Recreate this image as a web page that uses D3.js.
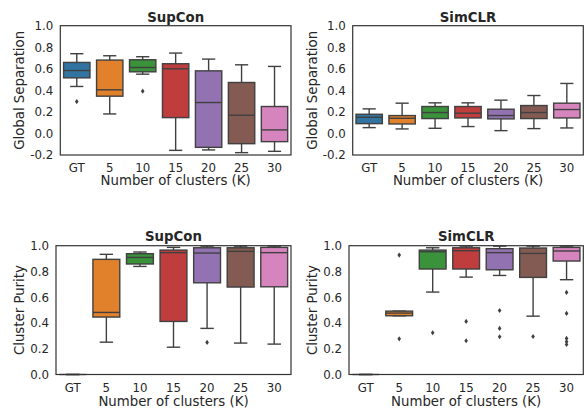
<!DOCTYPE html>
<html><head><meta charset="utf-8">
<script src="https://cdn.jsdelivr.net/npm/d3@7"></script>
<style>
html,body{margin:0;padding:0;background:#fff;}
text{font-family:"DejaVu Sans",sans-serif;fill:#262626;}
</style></head>
<body>
<svg id="chart" width="585" height="409"></svg>
<script>
// ---- data ----
const categories = ["GT", "5", "10", "15", "20", "25", "30"];
const palette = ["#3274a1", "#e1812c", "#3a923a", "#c03d3e", "#9372b2", "#845b53", "#d684bd"];
const sepTicks = [-0.2, 0.0, 0.2, 0.4, 0.6, 0.8, 1.0];
const purTicks = [0.0, 0.2, 0.4, 0.6, 0.8, 1.0];

// each entry: [whiskerLow, Q1, median, Q3, whiskerHigh]
const supconSep = [
  [0.436, 0.516, 0.584, 0.659, 0.740],
  [0.181, 0.346, 0.405, 0.681, 0.721],
  [0.550, 0.572, 0.612, 0.684, 0.712],
  [-0.157, 0.147, 0.600, 0.647, 0.746],
  [-0.153, -0.129, 0.287, 0.581, 0.690],
  [-0.178, -0.095, 0.169, 0.473, 0.637],
  [-0.166, -0.076, 0.033, 0.250, 0.622]
];
const supconSepOut = [[0.296], [], [0.392], [], [], [], []];

const simclrSep = [
  [0.054, 0.091, 0.150, 0.178, 0.228],
  [0.042, 0.088, 0.141, 0.166, 0.281],
  [0.048, 0.138, 0.194, 0.250, 0.284],
  [0.064, 0.144, 0.188, 0.250, 0.284],
  [0.026, 0.135, 0.166, 0.225, 0.309],
  [0.045, 0.138, 0.194, 0.259, 0.352],
  [0.051, 0.144, 0.222, 0.281, 0.464]
];
const simclrSepOut = [[], [], [], [], [], [], []];

const supconPur = [
  [0.0, 0.0, 0.0, 0.0, 0.0],
  [0.251, 0.446, 0.482, 0.894, 0.933],
  [0.839, 0.858, 0.909, 0.938, 0.951],
  [0.212, 0.412, 0.946, 0.966, 0.987],
  [0.358, 0.712, 0.943, 0.984, 0.997],
  [0.244, 0.679, 0.956, 0.984, 0.997],
  [0.236, 0.681, 0.946, 0.987, 0.997]
];
const supconPurOut = [[], [], [], [], [0.249], [], []];

const simclrPur = [
  [0.0, 0.0, 0.0, 0.0, 0.0],
  [0.456, 0.456, 0.477, 0.492, 0.492],
  [0.640, 0.819, 0.953, 0.966, 0.984],
  [0.756, 0.819, 0.961, 0.984, 0.997],
  [0.769, 0.813, 0.946, 0.977, 0.997],
  [0.453, 0.754, 0.940, 0.982, 0.997],
  [0.736, 0.881, 0.959, 0.987, 0.997]
];
const simclrPurOut = [[], [0.927, 0.277], [0.324], [0.412, 0.262], [0.497, 0.358, 0.293], [0.295], [0.637, 0.474, 0.280, 0.255, 0.233]];

// ---- layout ----
const panels = [
  {stats: supconSep, out: supconSepOut, title: "SupCon", ylabel: "Global Separation", domain: [-0.2, 1.0], ticks: sepTicks,
   left: 60.3, right: 291, top: 25.7, bottom: 155, ylabX: 24, tickBase: 171.5, xlabBase: 185, titleBase: 21.7},
  {stats: simclrSep, out: simclrSepOut, title: "SimCLR", ylabel: "Global Separation", domain: [-0.2, 1.0], ticks: sepTicks,
   left: 352.7, right: 583.3, top: 25.7, bottom: 155, ylabX: 316.5, tickBase: 171.5, xlabBase: 185, titleBase: 21.7},
  {stats: supconPur, out: supconPurOut, title: "SupCon", ylabel: "Cluster Purity", domain: [0.0, 1.0], ticks: purTicks,
   left: 56, right: 291, top: 245.7, bottom: 374.5, ylabX: 24, tickBase: 391.5, xlabBase: 405.7, titleBase: 240.7},
  {stats: simclrPur, out: simclrPurOut, title: "SimCLR", ylabel: "Cluster Purity", domain: [0.0, 1.0], ticks: purTicks,
   left: 349, right: 583.3, top: 245.7, bottom: 374.5, ylabX: 316.7, tickBase: 391.5, xlabBase: 405.7, titleBase: 240.7}
];

const svg = d3.select("#chart");
const lineCol = "#404040";
const tickFs = "11.8px", labFs = "13.3px";

panels.forEach(p => {
  const x = d3.scaleBand().domain(categories).range([p.left, p.right]).paddingInner(0).paddingOuter(0);
  const y = d3.scaleLinear().domain(p.domain).range([p.bottom, p.top]);
  const g = svg.append("g");
  const bw = x.bandwidth() * 0.8;
  const cw = bw / 2;

  categories.forEach((c, i) => {
    const [lo, q1, med, q3, hi] = p.stats[i];
    const cx = x(c) + x.bandwidth() / 2;
    const bg = g.append("g");
    // whiskers
    bg.append("line").attr("x1", cx).attr("x2", cx).attr("y1", y(q3)).attr("y2", y(hi))
      .attr("stroke", lineCol).attr("stroke-width", 1.4);
    bg.append("line").attr("x1", cx).attr("x2", cx).attr("y1", y(q1)).attr("y2", y(lo))
      .attr("stroke", lineCol).attr("stroke-width", 1.4);
    // caps
    [lo, hi].forEach(v => bg.append("line").attr("x1", cx - cw / 2).attr("x2", cx + cw / 2)
      .attr("y1", y(v)).attr("y2", y(v)).attr("stroke", lineCol).attr("stroke-width", 1.4));
    // box
    bg.append("rect").attr("x", cx - bw / 2).attr("width", bw)
      .attr("y", y(q3)).attr("height", Math.max(0, y(q1) - y(q3)))
      .attr("fill", palette[i]).attr("stroke", lineCol).attr("stroke-width", 1.4);
    // median
    bg.append("line").attr("x1", cx - bw / 2).attr("x2", cx + bw / 2).attr("y1", y(med)).attr("y2", y(med))
      .attr("stroke", lineCol).attr("stroke-width", 1.4);
    // outliers
    p.out[i].forEach(v => bg.append("path")
      .attr("d", "M0,-2.6L1.8,0L0,2.6L-1.8,0Z")
      .attr("transform", `translate(${cx},${y(v)})`)
      .attr("fill", lineCol));
  });

  // frame
  g.append("rect").attr("x", p.left).attr("y", p.top).attr("width", p.right - p.left).attr("height", p.bottom - p.top)
    .attr("fill", "none").attr("stroke", "#333").attr("stroke-width", 1.2);

  // y axis ticks labels
  const yAxis = d3.axisLeft(y).tickValues(p.ticks).tickSize(0).tickPadding(7)
    .tickFormat(d => d3.format(".1f")(d).replace("−", "-"));
  const ya = g.append("g").attr("transform", `translate(${p.left},0)`).call(yAxis);
  ya.select(".domain").remove();
  ya.selectAll("text").style("font-size", tickFs).style("font-family", "DejaVu Sans").attr("fill", "#262626");

  // x tick labels
  categories.forEach(c => {
    g.append("text").attr("x", x(c) + x.bandwidth() / 2).attr("y", p.tickBase)
      .attr("text-anchor", "middle").style("font-size", tickFs).text(c);
  });

  // x label
  g.append("text").attr("x", (p.left + p.right) / 2).attr("y", p.xlabBase)
    .attr("text-anchor", "middle").style("font-size", labFs).text("Number of clusters (K)");
  // y label
  g.append("text").attr("transform", `translate(${p.ylabX},${(p.top + p.bottom) / 2}) rotate(-90)`)
    .attr("text-anchor", "middle").style("font-size", labFs).text(p.ylabel);
  // title
  g.append("text").attr("x", (p.left + p.right) / 2).attr("y", p.titleBase)
    .attr("text-anchor", "middle").style("font-size", labFs).style("font-weight", "bold").text(p.title);
});
</script>
</body></html>
